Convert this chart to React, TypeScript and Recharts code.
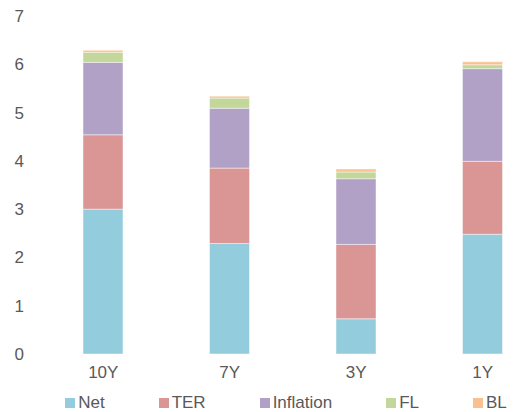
import { BarChart, Bar, XAxis, YAxis, Legend } from 'recharts';

const tenors = ['10Y', '7Y', '3Y', '1Y'];
const net = [3.0, 2.29, 0.73, 2.48];
const ter = [1.54, 1.56, 1.54, 1.51];
const inflation = [1.5, 1.24, 1.36, 1.92];
const fl = [0.21, 0.21, 0.14, 0.08];
const bl = [0.04, 0.04, 0.06, 0.06];
const yTicks = [0, 1, 2, 3, 4, 5, 6, 7];

const series = [
  { key: 'Net', color: '#93CDDD' },
  { key: 'TER', color: '#D99694' },
  { key: 'Inflation', color: '#B2A1C7' },
  { key: 'FL', color: '#C4D79B' },
  { key: 'BL', color: '#FAC090' },
];

const data = tenors.map((name, i) => ({
  name,
  Net: net[i],
  TER: ter[i],
  Inflation: inflation[i],
  FL: fl[i],
  BL: bl[i],
}));

const font = '"Liberation Sans", Arial, sans-serif';

const LegendBox = () => (
  <div
    style={{
      height: 30,
      boxSizing: 'border-box',
      paddingTop: 12,
      paddingLeft: 26,
      display: 'flex',
      justifyContent: 'center',
      gap: 54,
      fontFamily: font,
      fontSize: 17,
      lineHeight: '20px',
      color: '#595959',
    }}
  >
    {series.map((s) => (
      <span key={s.key} style={{ display: 'flex', alignItems: 'center' }}>
        <span style={{ width: 10, height: 10, background: s.color, marginRight: 3, display: 'inline-block' }} />
        {s.key}
      </span>
    ))}
  </div>
);

export default function App() {
  return (
    <div style={{ position: 'fixed', left: 0, top: 0, width: 523, height: 412, overflow: 'hidden', background: '#fff' }}>
      <BarChart
        width={546}
        height={412}
        data={data}
        margin={{ top: 16, right: 0, bottom: 0, left: 0 }}
        barSize={40}
      >
        <XAxis
          dataKey="name"
          height={28}
          axisLine={false}
          tickLine={false}
          tickSize={0}
          tickMargin={12}
          tick={{ fill: '#595959', fontSize: 17, fontFamily: font }}
        />
        <YAxis
          width={40}
          domain={[0, 7]}
          ticks={yTicks}
          axisLine={false}
          tickLine={false}
          tickSize={0}
          tickMargin={16}
          tick={{ fill: '#595959', fontSize: 17, fontFamily: font }}
        />
        <Legend verticalAlign="bottom" content={<LegendBox />} />
        {series.map((s) => (
          <Bar
            key={s.key}
            dataKey={s.key}
            stackId="a"
            fill={s.color}
            stroke="#ffffff"
            strokeOpacity={0.45}
            strokeWidth={1}
            isAnimationActive={false}
          />
        ))}
      </BarChart>
    </div>
  );
}
